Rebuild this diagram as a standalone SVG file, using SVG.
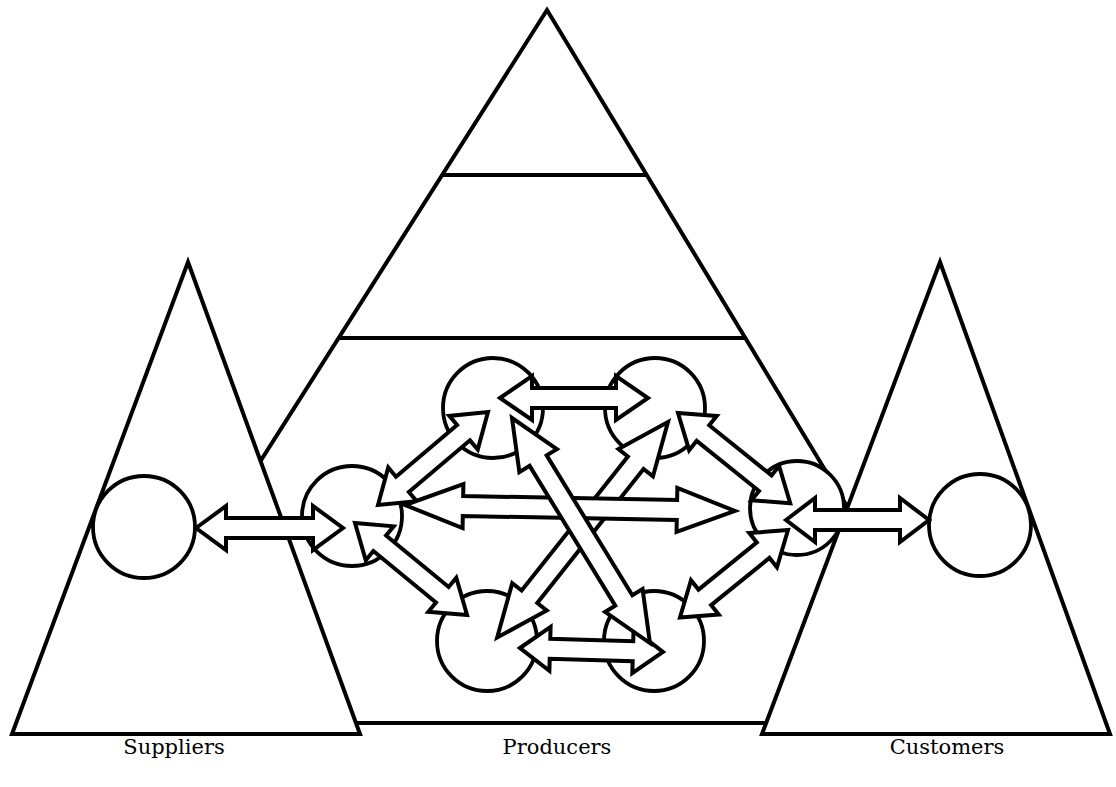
<svg xmlns="http://www.w3.org/2000/svg" width="1116" height="787" viewBox="0 0 1116 787">
<style>
.tri{fill:#fff;stroke:#000;stroke-width:4;stroke-linejoin:miter}
.ln{stroke:#000;stroke-width:4}
.c{fill:#fff;stroke:#000;stroke-width:3.8}
.ar{fill:#fff;stroke:#000;stroke-width:4;stroke-linejoin:miter;stroke-miterlimit:12}
.lbl{font-family:"DejaVu Serif","Liberation Serif",serif;font-size:21px;fill:#000;text-anchor:middle}
</style>
<rect width="1116" height="787" fill="#fff"/>
<g id="producers">
<polygon class="tri" points="547,10 978,723 94,723"/>
<line class="ln" x1="442" y1="175" x2="647" y2="175"/>
<line class="ln" x1="339" y1="338" x2="745" y2="338"/>
</g>
<g id="suppliers">
<polygon class="tri" points="188,262 360,734 12,734"/>
</g>
<g id="customers">
<polygon class="tri" points="940,262 1110,734 762,734"/>
</g>
<g id="supplier-node"><circle class="c" cx="144" cy="527" r="51"/></g>
<g id="customer-node"><circle class="c" cx="980" cy="525" r="51"/></g>
<g id="p-left"><circle class="c" cx="352" cy="516" r="50"/></g>
<g id="p-topleft"><circle class="c" cx="493" cy="408" r="50"/></g>
<g id="p-topright"><circle class="c" cx="655" cy="408" r="50"/></g>
<g id="p-right"><circle class="c" cx="797" cy="508" r="47"/></g>
<g id="p-bottomleft"><circle class="c" cx="487" cy="641" r="50"/></g>
<g id="p-bottomright"><circle class="c" cx="654" cy="641" r="50"/></g>
<g id="connectors">
<path class="ar" transform="translate(196,528)" d="M0,0 L30,-22 L30,-10 L117,-10 L117,-22 L147,0 L117,22 L117,10 L30,10 L30,22Z"/>
<path class="ar" transform="translate(786,520)" d="M0,0 L29,-22 L29,-10 L114,-10 L114,-22 L143,0 L114,22 L114,10 L29,10 L29,22Z"/>
<path class="ar" transform="translate(500,398)" d="M0,0 L32,-22 L32,-10 L116,-10 L116,-22 L148,0 L116,22 L116,10 L32,10 L32,22Z"/>
<path class="ar" transform="translate(520,648) rotate(1.6)" d="M0,0 L30,-22 L30,-10 L113,-10 L113,-22 L143,0 L113,22 L113,10 L30,10 L30,22Z"/>
<path class="ar" transform="translate(378,505) rotate(-40.2)" d="M0,0 L32,-22 L32,-10 L112,-10 L112,-22 L144,0 L112,22 L112,10 L32,10 L32,22Z"/>
<path class="ar" transform="translate(355,523) rotate(39.4)" d="M0,0 L32,-22 L32,-10 L113,-10 L113,-22 L145,0 L113,22 L113,10 L32,10 L32,22Z"/>
<path class="ar" transform="translate(678,413) rotate(38.8)" d="M0,0 L32,-22 L32,-10 L112,-10 L112,-22 L144,0 L112,22 L112,10 L32,10 L32,22Z"/>
<path class="ar" transform="translate(788,530) rotate(141)" d="M0,0 L32,-22 L32,-10 L107,-10 L107,-22 L139,0 L107,22 L107,10 L32,10 L32,22Z"/>
<path class="ar" transform="translate(668,422) rotate(128.4)" d="M0,0 L52,-22 L52,-10 L223,-10 L223,-22 L275,0 L223,22 L223,10 L52,10 L52,22Z"/>
<path class="ar" transform="translate(405,505) rotate(1.04)" d="M0,0 L58,-22 L58,-10 L272,-10 L272,-22 L330,0 L272,22 L272,10 L58,10 L58,22Z"/>
<path class="ar" transform="translate(512,418) rotate(58.5)" d="M0,0 L50,-22 L50,-10 L214,-10 L214,-22 L264,0 L214,22 L214,10 L50,10 L50,22Z"/>
</g>
<g id="labels">
<text class="lbl" x="174" y="754">Suppliers</text>
<text class="lbl" x="557" y="754">Producers</text>
<text class="lbl" x="947" y="754">Customers</text>
</g>
</svg>
